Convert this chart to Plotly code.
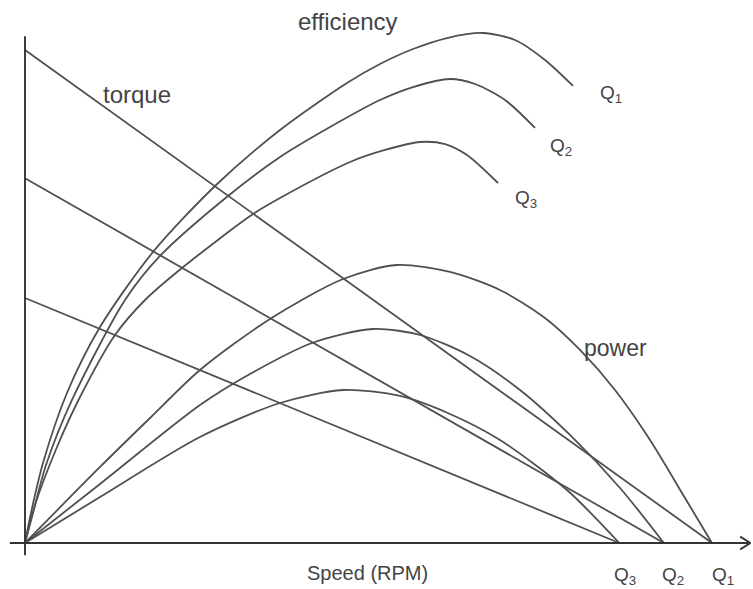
import plotly.graph_objects as go

# Normalised speed (Q1 no-load speed = 100) and normalised value units
# Torque lines (linear): start value at zero speed, zero at no-load speed
torque_start = {"Q1": 100.0, "Q2": 74.0, "Q3": 49.7}
noload_speed = {"Q1": 100.0, "Q2": 93.0, "Q3": 86.5}

# Power curves (speed, power)
power_Q1_x = [0, 10.92, 18.20, 25.47, 35.66, 46.29, 54.15, 61.86, 69.14, 75.69, 80.79, 85.88, 90.98, 96.07, 100.0]
power_Q1_y = [0, 15.42, 25.35, 35.09, 45.44, 53.55, 56.39, 54.97, 51.32, 45.64, 39.15, 31.03, 20.89, 9.13, 0]
power_Q2_x = [0, 10.92, 25.47, 32.75, 41.78, 50.66, 57.50, 64.77, 72.05, 79.33, 86.61, 93.0]
power_Q2_y = [0, 11.97, 27.99, 34.28, 40.57, 43.41, 42.19, 37.93, 31.03, 21.91, 11.16, 0]
power_Q3_x = [0, 10.92, 25.47, 37.12, 46.29, 54.59, 61.86, 69.14, 78.89, 86.5]
power_Q3_y = [0, 9.33, 21.50, 28.40, 31.03, 29.82, 26.17, 20.89, 10.75, 0]

# Efficiency curves (speed, efficiency)
eff_Q1_x = [0, 0.87, 2.62, 6.11, 10.92, 18.63, 27.66, 37.12, 46.87, 51.67, 56.48, 61.43, 66.67, 71.32, 75.69, 79.77]
eff_Q1_y = [0, 6.09, 16.23, 30.43, 43.81, 59.03, 72.41, 83.77, 93.31, 97.16, 100.20, 102.43, 103.45, 102.03, 97.97, 92.70]
eff_Q2_x = [0, 1.16, 3.06, 6.84, 14.56, 19.65, 29.55, 37.12, 44.40, 51.67, 56.48, 61.86, 65.50, 69.87, 74.24]
eff_Q2_y = [0, 6.09, 15.82, 29.01, 49.29, 58.22, 70.39, 78.30, 84.38, 89.86, 92.49, 94.12, 93.10, 89.86, 84.18]
eff_Q3_x = [0, 1.46, 4.66, 8.01, 13.10, 17.47, 22.85, 33.19, 37.12, 47.31, 52.40, 57.50, 61.14, 64.34, 68.85]
eff_Q3_y = [0, 7.71, 19.47, 29.61, 42.19, 49.29, 55.78, 66.73, 69.98, 77.28, 79.72, 81.34, 80.93, 78.70, 73.02]

LINE = dict(color="#505050", width=1.8)
FONT = dict(family="Liberation Sans, Arial, sans-serif", color="#444444")

fig = go.Figure()

for q in ["Q1", "Q2", "Q3"]:
    fig.add_trace(go.Scatter(x=[0, noload_speed[q]], y=[torque_start[q], 0],
                             mode="lines", line=LINE, hoverinfo="skip"))

for xs, ys in [(power_Q1_x, power_Q1_y), (power_Q2_x, power_Q2_y), (power_Q3_x, power_Q3_y),
               (eff_Q1_x, eff_Q1_y), (eff_Q2_x, eff_Q2_y), (eff_Q3_x, eff_Q3_y)]:
    fig.add_trace(go.Scatter(x=xs, y=ys, mode="lines",
                             line=dict(color=LINE["color"], width=LINE["width"],
                                       shape="spline", smoothing=0.8),
                             hoverinfo="skip"))

AX = dict(color="#333333", width=1.9)
# axes
fig.add_shape(type="line", x0=-2.2, x1=105.6, y0=0, y1=0, line=AX)
fig.add_shape(type="line", x0=0, x1=0, y0=-2.5, y1=102.8, line=AX)
# arrow head (open chevron)
fig.add_shape(type="line", x0=104.1, y0=1.3, x1=105.6, y1=0, line=AX)
fig.add_shape(type="line", x0=104.1, y0=-1.3, x1=105.6, y1=0, line=AX)

labels = [
    ("efficiency", 47.0, 105.8, 24),
    ("torque", 16.3, 91.0, 24),
    ("power", 86.0, 39.6, 23),
    ("Speed (RPM)", 49.8, -6.1, 20),
    ("Q<sub>1</sub>", 85.3, 91.0, 19),
    ("Q<sub>2</sub>", 78.0, 80.4, 19),
    ("Q<sub>3</sub>", 72.9, 69.7, 19),
    ("Q<sub>3</sub>", 87.3, -6.6, 19),
    ("Q<sub>2</sub>", 94.3, -6.6, 19),
    ("Q<sub>1</sub>", 101.6, -6.6, 19),
]
for text, x, y, size in labels:
    fig.add_annotation(x=x, y=y, xref="x", yref="y", text=text, showarrow=False,
                       font=dict(size=size, **FONT), xanchor="center", yanchor="middle")

fig.update_layout(
    width=753, height=589,
    margin=dict(l=0, r=0, t=0, b=0),
    paper_bgcolor="white", plot_bgcolor="white",
    showlegend=False,
    xaxis=dict(range=[-3.639, 105.968], visible=False, fixedrange=True),
    yaxis=dict(range=[-9.33, 110.14], visible=False, fixedrange=True),
)

fig.write_html("out.html")
